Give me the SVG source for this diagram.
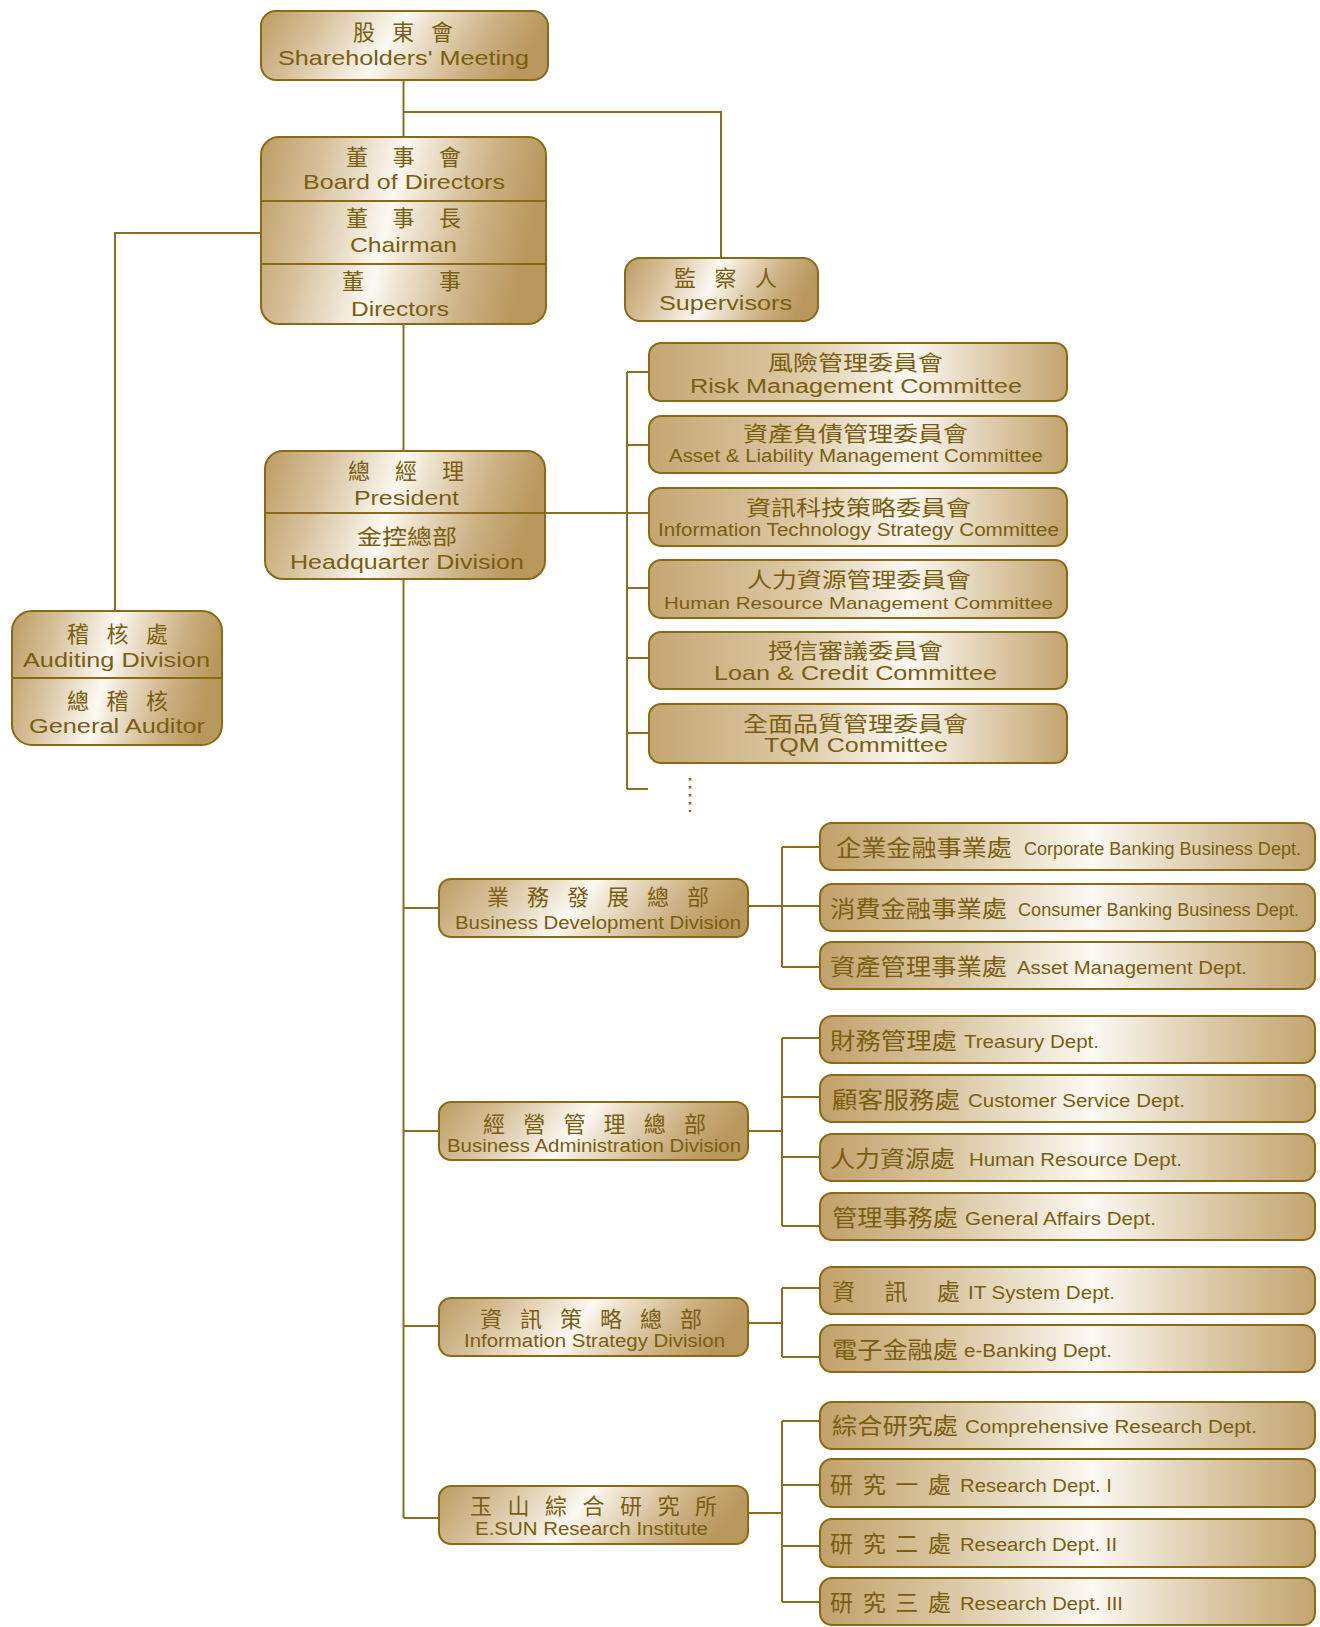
<svg xmlns="http://www.w3.org/2000/svg" width="1320" height="1627" viewBox="0 0 1320 1627">
<defs>
<linearGradient id="gA" x1="0" y1="0" x2="1" y2="0.15">
<stop offset="0" stop-color="#bd9c62"/>
<stop offset="0.22" stop-color="#d6c09a"/>
<stop offset="0.5" stop-color="#fcf9f3"/>
<stop offset="0.57" stop-color="#f1e7d6"/>
<stop offset="0.82" stop-color="#ccb183"/>
<stop offset="1" stop-color="#b9985d"/>
</linearGradient>
<linearGradient id="gB" x1="0" y1="0" x2="1" y2="0">
<stop offset="0" stop-color="#c5a672"/>
<stop offset="0.35" stop-color="#dcc8a4"/>
<stop offset="0.62" stop-color="#fcf9f3"/>
<stop offset="0.8" stop-color="#e1d0b2"/>
<stop offset="1" stop-color="#c3a36d"/>
</linearGradient>
<linearGradient id="gC" x1="0" y1="0" x2="1" y2="0">
<stop offset="0" stop-color="#c2a16a"/>
<stop offset="0.28" stop-color="#dccaa7"/>
<stop offset="0.55" stop-color="#fcf9f3"/>
<stop offset="0.8" stop-color="#dac7a5"/>
<stop offset="1" stop-color="#c3a570"/>
</linearGradient>
<style>
.box{stroke:#8a6a14;stroke-width:2}
.bA{fill:url(#gA)}
.bB{fill:url(#gB)}
.bC{fill:url(#gC)}
.dv{stroke:#8a6a14;stroke-width:2;fill:none}
.ln{fill:none;stroke:#8d6e1e;stroke-width:2}
.dot{fill:none;stroke:#8d6e1e;stroke-width:2.5;stroke-dasharray:2.5 5.5}
text{font-family:"Liberation Sans",Arial,"Noto Sans CJK TC","Noto Sans CJK SC",sans-serif;fill:#7a5e10}
.z{font-size:21px}
.zs{font-size:22px}
.zd{font-size:23px}
.e21{font-size:21px}
.e20{font-size:20px}
.e18{font-size:18px}
.e17{font-size:17px}
</style>
</defs>

<g id="connectors">
<path class="ln" d="M403.5,80 V137"/>
<path class="ln" d="M403.5,112 H721 V258"/>
<path class="ln" d="M261,233 H115 V611"/>
<path class="ln" d="M403.5,324 V451"/>
<path class="ln" d="M403.5,579 V1518"/>
<path class="ln" d="M545,513 H649"/>
<path class="ln" d="M627,372 V789"/>
<path class="ln" d="M627,372 H649 M627,445 H649 M627,588 H649 M627,658 H649 M627,733 H649 M627,789 H648"/>
<path class="dot" d="M690,778 V812"/>
<path class="ln" d="M403.5,908 H439 M403.5,1131 H439 M403.5,1326 H439 M403.5,1518 H439"/>
<path class="ln" d="M748,906 H782 M782,847 V967 M782,847 H820 M782,906 H820 M782,967 H820"/>
<path class="ln" d="M748,1131 H782 M782,1038 V1226 M782,1038 H820 M782,1097 H820 M782,1157 H820 M782,1226 H820"/>
<path class="ln" d="M748,1323 H782 M782,1288 V1357 M782,1288 H820 M782,1357 H820"/>
<path class="ln" d="M748,1513 H782 M782,1421 V1602 M782,1421 H820 M782,1485 H820 M782,1546 H820 M782,1602 H820"/>
</g>

<g id="shareholders">
<rect class="box bA" x="261" y="11" width="287" height="69" rx="15"/>
<text class="zs" x="353" y="40" textLength="100" lengthAdjust="spacing">股 東 會</text>
<text class="e21" x="278" y="65" textLength="251" lengthAdjust="spacingAndGlyphs">Shareholders' Meeting</text>
</g>

<g id="board">
<rect class="box bA" x="261" y="137" width="285" height="187" rx="18"/>
<path class="dv" d="M261,201 H546 M261,264 H546"/>
<text class="zs" x="346" y="165" textLength="115" lengthAdjust="spacing">董 事 會</text>
<text class="e21" x="303" y="189" textLength="202" lengthAdjust="spacingAndGlyphs">Board of Directors</text>
<text class="zs" x="346" y="226" textLength="115" lengthAdjust="spacing">董 事 長</text>
<text class="e21" x="350" y="252" textLength="107" lengthAdjust="spacingAndGlyphs">Chairman</text>
<text class="zs" x="342" y="289" textLength="119" lengthAdjust="spacing">董 事</text>
<text class="e21" x="351" y="316" textLength="98" lengthAdjust="spacingAndGlyphs">Directors</text>
</g>

<g id="supervisors">
<rect class="box bA" x="625" y="258" width="193" height="63" rx="15"/>
<text class="zs" x="674" y="286" textLength="103" lengthAdjust="spacing">監 察 人</text>
<text class="e20" x="659" y="310" textLength="133" lengthAdjust="spacingAndGlyphs">Supervisors</text>
</g>

<g id="auditing">
<rect class="box bA" x="12" y="611" width="210" height="134" rx="20"/>
<path class="dv" d="M12,678 H222"/>
<text class="zs" x="67" y="642" textLength="101" lengthAdjust="spacing">稽 核 處</text>
<text class="e20" x="23" y="667" textLength="187" lengthAdjust="spacingAndGlyphs">Auditing Division</text>
<text class="zs" x="67" y="709" textLength="101" lengthAdjust="spacing">總 稽 核</text>
<text class="e20" x="29" y="733" textLength="176" lengthAdjust="spacingAndGlyphs">General Auditor</text>
</g>

<g id="president">
<rect class="box bA" x="265" y="451" width="280" height="128" rx="18"/>
<path class="dv" d="M265,513 H545"/>
<text class="zs" x="348" y="479" textLength="116" lengthAdjust="spacing">總 經 理</text>
<text class="e20" x="354" y="505" textLength="105" lengthAdjust="spacingAndGlyphs">President</text>
<text class="z" x="357" y="544" textLength="100" lengthAdjust="spacingAndGlyphs">金控總部</text>
<text class="e20" x="290" y="569" textLength="234" lengthAdjust="spacingAndGlyphs">Headquarter Division</text>
</g>

<g id="committee-risk">
<rect class="box bB" x="649" y="343" width="418" height="58" rx="12"/>
<text class="z" x="768" y="370" textLength="175" lengthAdjust="spacingAndGlyphs">風險管理委員會</text>
<text class="e20" x="690" y="393" textLength="332" lengthAdjust="spacingAndGlyphs">Risk Management Committee</text>
</g>
<g id="committee-alm">
<rect class="box bB" x="649" y="416" width="418" height="57" rx="12"/>
<text class="z" x="743" y="441" textLength="225" lengthAdjust="spacingAndGlyphs">資產負債管理委員會</text>
<text class="e18" x="669" y="462" textLength="374" lengthAdjust="spacingAndGlyphs">Asset &amp; Liability Management Committee</text>
</g>
<g id="committee-it">
<rect class="box bB" x="649" y="488" width="418" height="58" rx="12"/>
<text class="z" x="746" y="515" textLength="225" lengthAdjust="spacingAndGlyphs">資訊科技策略委員會</text>
<text class="e18" x="658" y="536" textLength="401" lengthAdjust="spacingAndGlyphs">Information Technology Strategy Committee</text>
</g>
<g id="committee-hr">
<rect class="box bB" x="649" y="560" width="418" height="58" rx="12"/>
<text class="z" x="747" y="587" textLength="224" lengthAdjust="spacingAndGlyphs">人力資源管理委員會</text>
<text class="e17" x="664" y="609" textLength="389" lengthAdjust="spacingAndGlyphs">Human Resource Management Committee</text>
</g>
<g id="committee-loan">
<rect class="box bB" x="649" y="632" width="418" height="57" rx="12"/>
<text class="z" x="768" y="658" textLength="175" lengthAdjust="spacingAndGlyphs">授信審議委員會</text>
<text class="e20" x="714" y="680" textLength="283" lengthAdjust="spacingAndGlyphs">Loan &amp; Credit Committee</text>
</g>
<g id="committee-tqm">
<rect class="box bB" x="649" y="704" width="418" height="59" rx="12"/>
<text class="z" x="743" y="731" textLength="225" lengthAdjust="spacingAndGlyphs">全面品質管理委員會</text>
<text class="e20" x="764" y="752" textLength="184" lengthAdjust="spacingAndGlyphs">TQM Committee</text>
</g>

<g id="div-bdd">
<rect class="box bA" x="439" y="879" width="309" height="58" rx="12"/>
<text class="zs" x="487" y="905" textLength="222" lengthAdjust="spacing">業 務 發 展 總 部</text>
<text class="e18" x="455" y="929" textLength="286" lengthAdjust="spacingAndGlyphs">Business Development Division</text>
</g>
<g id="div-bad">
<rect class="box bA" x="439" y="1102" width="309" height="58" rx="12"/>
<text class="zs" x="483" y="1132" textLength="223" lengthAdjust="spacing">經 營 管 理 總 部</text>
<text class="e18" x="447" y="1152" textLength="294" lengthAdjust="spacingAndGlyphs">Business Administration Division</text>
</g>
<g id="div-isd">
<rect class="box bA" x="439" y="1298" width="309" height="58" rx="12"/>
<text class="zs" x="480" y="1327" textLength="222" lengthAdjust="spacing">資 訊 策 略 總 部</text>
<text class="e18" x="464" y="1347" textLength="261" lengthAdjust="spacingAndGlyphs">Information Strategy Division</text>
</g>
<g id="div-eri">
<rect class="box bA" x="439" y="1486" width="309" height="58" rx="12"/>
<text class="zs" x="470" y="1514" textLength="247" lengthAdjust="spacing">玉 山 綜 合 研 究 所</text>
<text class="e18" x="475" y="1535" textLength="233" lengthAdjust="spacingAndGlyphs">E.SUN Research Institute</text>
</g>

<g id="dept-corporate">
<rect class="box bC" x="820" y="823" width="495" height="47" rx="12"/>
<text class="zd" x="836" y="856" textLength="176" lengthAdjust="spacingAndGlyphs">企業金融事業處</text>
<text class="e18" x="1024" y="855" textLength="277" lengthAdjust="spacingAndGlyphs">Corporate Banking Business Dept.</text>
</g>
<g id="dept-consumer">
<rect class="box bC" x="820" y="884" width="495" height="47" rx="12"/>
<text class="zd" x="830" y="917" textLength="177" lengthAdjust="spacingAndGlyphs">消費金融事業處</text>
<text class="e18" x="1018" y="916" textLength="281" lengthAdjust="spacingAndGlyphs">Consumer Banking Business Dept.</text>
</g>
<g id="dept-asset">
<rect class="box bC" x="820" y="942" width="495" height="47" rx="12"/>
<text class="zd" x="830" y="975" textLength="177" lengthAdjust="spacingAndGlyphs">資產管理事業處</text>
<text class="e18" x="1017" y="974" textLength="230" lengthAdjust="spacingAndGlyphs">Asset Management Dept.</text>
</g>
<g id="dept-treasury">
<rect class="box bC" x="820" y="1016" width="495" height="47" rx="12"/>
<text class="zd" x="830" y="1049" textLength="127" lengthAdjust="spacingAndGlyphs">財務管理處</text>
<text class="e18" x="964" y="1048" textLength="135" lengthAdjust="spacingAndGlyphs">Treasury Dept.</text>
</g>
<g id="dept-customer">
<rect class="box bC" x="820" y="1075" width="495" height="47" rx="12"/>
<text class="zd" x="832" y="1108" textLength="128" lengthAdjust="spacingAndGlyphs">顧客服務處</text>
<text class="e18" x="968" y="1107" textLength="217" lengthAdjust="spacingAndGlyphs">Customer Service Dept.</text>
</g>
<g id="dept-hr">
<rect class="box bC" x="820" y="1134" width="495" height="47" rx="12"/>
<text class="zd" x="830" y="1167" textLength="125" lengthAdjust="spacingAndGlyphs">人力資源處</text>
<text class="e18" x="969" y="1166" textLength="213" lengthAdjust="spacingAndGlyphs">Human Resource Dept.</text>
</g>
<g id="dept-general">
<rect class="box bC" x="820" y="1193" width="495" height="47" rx="12"/>
<text class="zd" x="832" y="1226" textLength="126" lengthAdjust="spacingAndGlyphs">管理事務處</text>
<text class="e18" x="965" y="1225" textLength="191" lengthAdjust="spacingAndGlyphs">General Affairs Dept.</text>
</g>
<g id="dept-it">
<rect class="box bC" x="820" y="1267" width="495" height="47" rx="12"/>
<text class="zd" x="832" y="1300" textLength="128" lengthAdjust="spacing">資 訊 處</text>
<text class="e18" x="968" y="1299" textLength="147" lengthAdjust="spacingAndGlyphs">IT System Dept.</text>
</g>
<g id="dept-ebanking">
<rect class="box bC" x="820" y="1325" width="495" height="47" rx="12"/>
<text class="zd" x="832" y="1358" textLength="126" lengthAdjust="spacingAndGlyphs">電子金融處</text>
<text class="e18" x="964" y="1357" textLength="148" lengthAdjust="spacingAndGlyphs">e-Banking Dept.</text>
</g>
<g id="dept-comprehensive">
<rect class="box bC" x="820" y="1402" width="495" height="47" rx="12"/>
<text class="zd" x="832" y="1434" textLength="126" lengthAdjust="spacingAndGlyphs">綜合研究處</text>
<text class="e18" x="965" y="1433" textLength="292" lengthAdjust="spacingAndGlyphs">Comprehensive Research Dept.</text>
</g>
<g id="dept-research1">
<rect class="box bC" x="820" y="1459" width="495" height="48" rx="12"/>
<text class="zd" x="830" y="1493" textLength="121" lengthAdjust="spacing">研 究 一 處</text>
<text class="e18" x="960" y="1492" textLength="152" lengthAdjust="spacingAndGlyphs">Research Dept. I</text>
</g>
<g id="dept-research2">
<rect class="box bC" x="820" y="1519" width="495" height="48" rx="12"/>
<text class="zd" x="830" y="1552" textLength="121" lengthAdjust="spacing">研 究 二 處</text>
<text class="e18" x="960" y="1551" textLength="157" lengthAdjust="spacingAndGlyphs">Research Dept. II</text>
</g>
<g id="dept-research3">
<rect class="box bC" x="820" y="1578" width="495" height="47" rx="12"/>
<text class="zd" x="830" y="1611" textLength="121" lengthAdjust="spacing">研 究 三 處</text>
<text class="e18" x="960" y="1610" textLength="163" lengthAdjust="spacingAndGlyphs">Research Dept. III</text>
</g>
</svg>
